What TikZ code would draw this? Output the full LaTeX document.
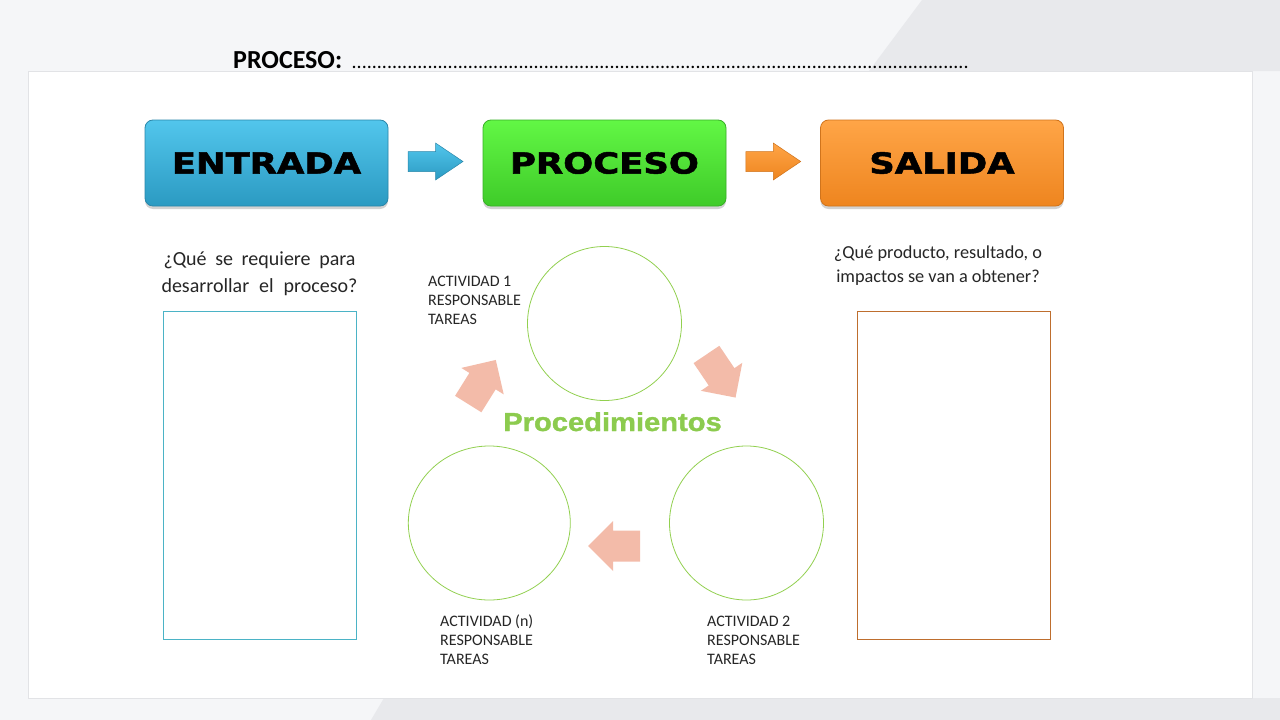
\documentclass[tikz,border=0pt]{standalone}
\usepackage{fontspec}
\usepackage{graphicx}
\setmainfont{Carlito}
\newfontfamily\boxfont{DejaVu Sans}[BoldFeatures={FakeBold=1.6}]
\newfontfamily\procfont{Liberation Sans}[BoldFeatures={FakeBold=1.2}]
\usetikzlibrary{shadows,calc}
\definecolor{bg}{HTML}{F5F6F8}
\definecolor{bgdark}{HTML}{E8E9EC}
\definecolor{panelline}{HTML}{E2E3E6}
\definecolor{bluetop}{HTML}{52C6EC}
\definecolor{bluebot}{HTML}{2B9AC2}
\definecolor{blueline}{HTML}{2A87AA}
\definecolor{greentop}{HTML}{62F745}
\definecolor{greenbot}{HTML}{3FCB29}
\definecolor{greenline}{HTML}{38B027}
\definecolor{orangetop}{HTML}{FFA547}
\definecolor{orangebot}{HTML}{EE851F}
\definecolor{orangeline}{HTML}{D0741C}
\definecolor{pinkarrow}{HTML}{F3BBA9}
\definecolor{circgreen}{HTML}{92D050}
\definecolor{procgreen}{HTML}{8CCB4E}
\definecolor{leftrect}{HTML}{4BB3C6}
\definecolor{rightrect}{HTML}{BE6E2E}
\newcommand\boxtext[1]{\scalebox{1.22}[1]{\boxfont\bfseries\fontsize{29}{32}\selectfont #1}}
\tikzset{
  bigbox/.style={rectangle, rounded corners=8pt, minimum width=243pt, minimum height=86pt,
    inner sep=0pt, line width=0.8pt, text=black,
    drop shadow={opacity=0.35, shadow xshift=0pt, shadow yshift=-3pt}},
  actline/.style={anchor=base west, inner sep=0pt, font=\fontsize{16}{19}\selectfont, text=black!85},
  qline/.style={anchor=base, inner sep=0pt, text=black!85},
  actcircle/.style={draw=circgreen, line width=0.8pt},
  pinkblock/.style={fill=pinkarrow},
}
\begin{document}
\begin{tikzpicture}[x=1pt,y=-1pt]
\useasboundingbox (0,0) rectangle (1280,720);
% background
\fill[bg] (0,0) rectangle (1280,720);
\fill[bgdark] (922,0) -- (1280,0) -- (1280,71) -- (869,71) -- cycle;
\fill[bgdark] (384,698) -- (1280,698) -- (1280,720) -- (371,720) -- cycle;
\fill[white, draw=panelline, line width=0.8pt] (28,71) rectangle (1252,698);

% title
\node[anchor=base west, inner sep=0pt, font=\fontsize{26}{30}\selectfont\bfseries] (title) at (233,68) {PROCESO:};
\node[anchor=base west, inner sep=0pt, font=\fontsize{20}{24}\selectfont] (titledots) at ([xshift=9pt]title.base east)
  {\hbox to 618pt{\xleaders\hbox{.}\hfill}};

% top boxes
\node[bigbox, top color=bluetop, bottom color=bluebot, draw=blueline] (entrada) at (266.5,163) {\boxtext{ENTRADA}};
\node[bigbox, top color=greentop, bottom color=greenbot, draw=greenline] (proceso) at (604.5,163) {\boxtext{PROCESO}};
\node[bigbox, top color=orangetop, bottom color=orangebot, draw=orangeline] (salida) at (942,163) {\boxtext{SALIDA}};

\coordinate (a1) at ($(entrada.east)!0.5!(proceso.west)+(0,-1.5)$);
\coordinate (a2) at ($(proceso.east)!0.5!(salida.west)+(0,-1.5)$);
\begin{scope}[shift={(a1)}]
  \shade[top color=bluetop, bottom color=bluebot, draw=blueline, line width=0.5pt]
    (-27.5,-10) -- (0,-10) -- (0,-18.5) -- (27.5,0) -- (0,18.5) -- (0,10) -- (-27.5,10) -- cycle;
\end{scope}
\begin{scope}[shift={(a2)}]
  \shade[top color=orangetop, bottom color=orangebot, draw=orangeline, line width=0.5pt]
    (-27.5,-10) -- (0,-10) -- (0,-18.5) -- (27.5,0) -- (0,18.5) -- (0,10) -- (-27.5,10) -- cycle;
\end{scope}

% questions
\node[qline, font=\fontsize{20}{27}\selectfont] (qin1) at (259.5,265) {\makebox[192pt][s]{¿Qué se requiere para}};
\node[qline, font=\fontsize{20}{27}\selectfont] (qin2) at (259.5,292) {\makebox[196pt][s]{desarrollar el proceso?}};
\node[qline, font=\fontsize{18.3}{24}\selectfont] (qout1) at (938,258) {¿Qué producto, resultado, o};
\node[qline, font=\fontsize{18.3}{24}\selectfont] (qout2) at (938,282) {impactos se van a obtener?};

% side rectangles
\draw[leftrect, line width=0.9pt] (163,311) rectangle (356.5,639);
\draw[rightrect, line width=0.9pt] (857.5,311) rectangle (1050.5,639);

% circles
\draw[actcircle] (604.5,323.5) circle[radius=77pt];
\draw[actcircle] (489.3,523) ellipse[x radius=81pt, y radius=77pt];
\draw[actcircle] (746.5,523) circle[radius=77pt];

% procedure label
\node[anchor=base, inner sep=0pt, text=procgreen] (proc) at (612.5,431)
  {\scalebox{1.12}[1]{\procfont\bfseries\fontsize{26}{30}\selectfont Procedimientos}};

% pink arrows
\begin{scope}[shift={(482,382)}, rotate=58]
  \fill[pinkblock] (-26,-15.5) -- (1,-15.5) -- (1,-25) -- (26,0) -- (1,25) -- (1,15.5) -- (-26,15.5) -- cycle;
\end{scope}
\begin{scope}[shift={(721,376)}, rotate=-56]
  \fill[pinkblock] (-26,-15.5) -- (1,-15.5) -- (1,-25) -- (26,0) -- (1,25) -- (1,15.5) -- (-26,15.5) -- cycle;
\end{scope}
\begin{scope}[shift={(614,546)}, rotate=180]
  \fill[pinkblock] (-26,-15.5) -- (1,-15.5) -- (1,-25) -- (26,0) -- (1,25) -- (1,15.5) -- (-26,15.5) -- cycle;
\end{scope}

% activity labels
\node[actline] (act1a) at (428,286) {ACTIVIDAD 1};
\node[actline] (act1b) at (428,305) {RESPONSABLE};
\node[actline] (act1c) at (428,324) {TAREAS};
\node[actline] (actna) at (440,626) {ACTIVIDAD (n)};
\node[actline] (actnb) at (440,645) {RESPONSABLE};
\node[actline] (actnc) at (440,664) {TAREAS};
\node[actline] (act2a) at (707,626) {ACTIVIDAD 2};
\node[actline] (act2b) at (707,645) {RESPONSABLE};
\node[actline] (act2c) at (707,664) {TAREAS};
\end{tikzpicture}
\end{document}
